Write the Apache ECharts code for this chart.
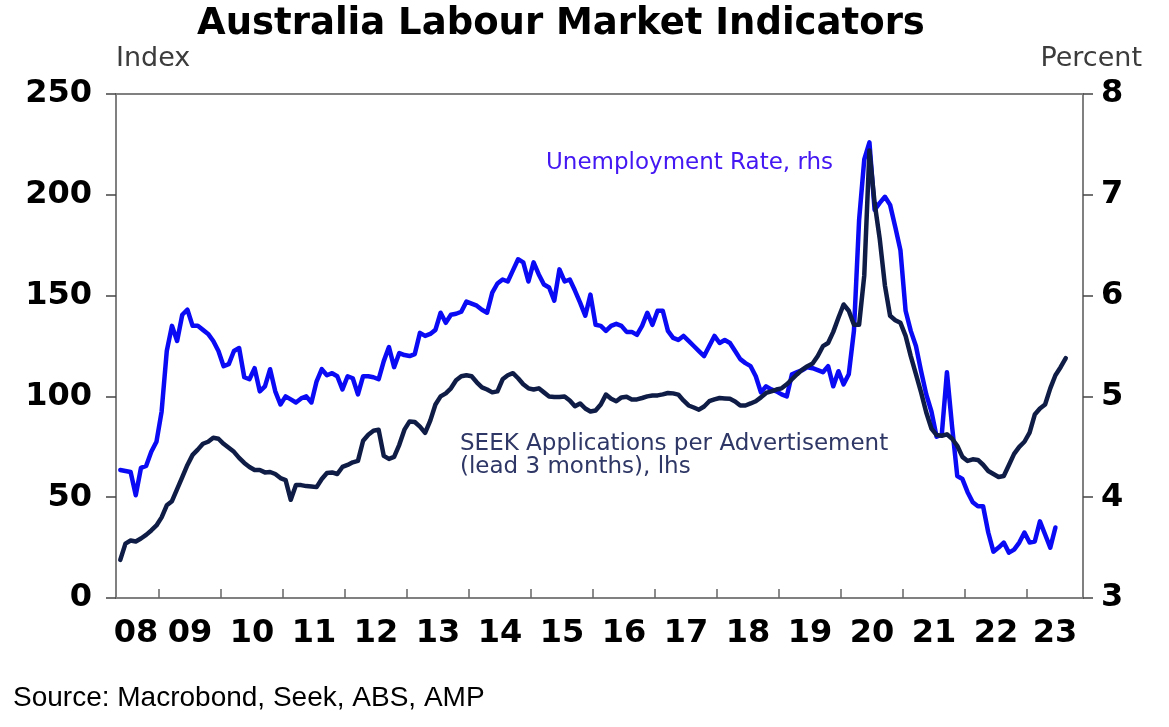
<!DOCTYPE html>
<html>
<head>
<meta charset="utf-8">
<title>Australia Labour Market Indicators</title>
<script src="https://cdn.jsdelivr.net/npm/echarts@6.0.0/dist/echarts.min.js"></script>
<style>
  html, body { margin: 0; padding: 0; background: #fff; }
  #chart { width: 1169px; height: 727px; }
</style>
</head>
<body>
<div id="chart"></div>
<script>
// monthly observations, first point mid-May 2008
const START_YEAR = 2008.375;

// Unemployment rate, % (right axis)
const unemploymentRate = [
  4.27, 4.26, 4.25, 4.02, 4.29, 4.31, 4.45, 4.55, 4.85, 5.45,
  5.70, 5.55, 5.81, 5.86, 5.70, 5.70, 5.66, 5.62, 5.55, 5.45,
  5.30, 5.32, 5.45, 5.48, 5.19, 5.17, 5.28, 5.05, 5.10, 5.27,
  5.05, 4.92, 5.00, 4.97, 4.94, 4.98, 5.00, 4.94, 5.15, 5.27,
  5.21, 5.23, 5.20, 5.07, 5.20, 5.18, 5.02, 5.20, 5.20, 5.19,
  5.17, 5.35, 5.49, 5.29, 5.43, 5.41, 5.40, 5.42, 5.63, 5.60,
  5.62, 5.66, 5.83, 5.73, 5.81, 5.82, 5.84, 5.94, 5.92, 5.90,
  5.86, 5.83, 6.03, 6.12, 6.16, 6.14, 6.25, 6.36, 6.33, 6.14,
  6.33, 6.21, 6.11, 6.08, 5.95, 6.26, 6.14, 6.16, 6.05, 5.93,
  5.80, 6.01, 5.71, 5.70, 5.65, 5.70, 5.72, 5.70, 5.64, 5.64,
  5.61, 5.70, 5.83, 5.71, 5.85, 5.85, 5.65, 5.58, 5.56, 5.60,
  5.55, 5.50, 5.45, 5.40, 5.50, 5.60, 5.53, 5.56, 5.53, 5.45,
  5.37, 5.33, 5.30, 5.20, 5.04, 5.10, 5.07, 5.05, 5.02, 5.00,
  5.22, 5.24, 5.26, 5.29, 5.28, 5.26, 5.24, 5.30, 5.10, 5.25,
  5.12, 5.22, 5.65, 6.75, 7.35, 7.52, 6.85, 6.92, 6.98, 6.90,
  6.68, 6.45, 5.85, 5.65, 5.50, 5.25, 5.02, 4.85, 4.60, 4.62,
  5.24, 4.70, 4.21, 4.18, 4.05, 3.95, 3.91, 3.91, 3.65, 3.46,
  3.50, 3.55, 3.45, 3.48, 3.55, 3.65, 3.55, 3.56, 3.76, 3.63,
  3.50, 3.70
];

// SEEK applications per advertisement, index, lead 3 months (left axis)
const seekApplications = [
  18.9, 27.0, 28.5, 28.0, 29.5, 31.3, 33.5, 36.0, 40.0, 46.0,
  48.0, 54.0, 60.0, 66.0, 71.0, 73.6, 76.5, 77.5, 79.5, 79.0,
  76.5, 74.5, 72.5, 69.5, 67.0, 65.0, 63.5, 63.5, 62.3, 62.5,
  61.5, 59.5, 58.5, 48.7, 56.0, 56.0, 55.5, 55.3, 55.0, 59.0,
  62.0, 62.3, 61.5, 65.0, 66.0, 67.3, 68.0, 78.0, 81.0, 83.0,
  83.5, 70.5, 69.0, 70.0, 76.0, 83.5, 87.6, 87.3, 85.0, 81.9,
  88.0, 96.0, 100.0, 101.5, 104.0, 108.0, 110.0, 110.5, 110.0, 107.0,
  104.5, 103.4, 102.0, 102.5, 108.5, 110.5, 111.5, 109.0, 106.0, 104.0,
  103.4, 104.0, 102.0, 100.0, 99.7, 99.7, 100.0, 98.0, 95.1, 96.5,
  94.0, 92.5, 93.0, 96.0, 100.9, 98.8, 97.6, 99.5, 99.8, 98.5,
  98.5, 99.2, 100.0, 100.4, 100.5, 101.0, 101.7, 101.5, 100.9, 98.0,
  95.5, 94.5, 93.4, 95.0, 97.6, 98.5, 99.2, 99.0, 98.8, 97.5,
  95.5, 95.5, 96.5, 97.6, 99.5, 101.7, 102.5, 103.4, 104.0, 106.0,
  108.5, 111.0, 113.3, 115.0, 116.3, 120.0, 124.9, 126.5, 132.0, 139.0,
  145.6, 142.5, 135.5, 135.5, 160.0, 222.0, 196.0, 178.0, 155.0, 140.0,
  137.8, 136.5, 130.0, 120.0, 111.0, 102.0, 92.0, 84.0, 80.8, 80.5,
  81.2, 79.0, 75.5, 70.0, 68.0, 68.8, 68.5, 66.1, 63.0, 61.5,
  60.0, 60.5, 66.0, 71.5, 75.0, 77.5, 82.0, 91.0, 94.0, 96.0,
  104.0, 110.5, 114.5, 119.0
];

// year boundaries get a tick, labels sit in the middle of each year
const yearTicks = [2009, 2010, 2011, 2012, 2013, 2014, 2015, 2016,
  2017, 2018, 2019, 2020, 2021, 2022, 2023];
const yearLabelPos = [2008.63, 2009.5, 2010.5, 2011.5, 2012.5, 2013.5, 2014.5,
  2015.5, 2016.5, 2017.5, 2018.5, 2019.5, 2020.5, 2021.5, 2022.5, 2023.45];

const toSeries = vals => vals.map((v, i) => [START_YEAR + i / 12, v]);

const AXIS_GREY = '#808080';
const labelFont = {
  fontFamily: 'DejaVu Sans',
  fontWeight: 'bold',
  fontSize: 32,
  color: '#000'
};

const chart = echarts.init(document.getElementById('chart'));

chart.setOption({
  animation: false,
  backgroundColor: '#fff',
  grid: {
    left: 116, right: 86, top: 94, bottom: 129,
    show: true, borderColor: AXIS_GREY, borderWidth: 2
  },
  xAxis: {
    type: 'value',
    min: 2008.306,
    max: 2023.903,
    axisLine: { show: true, lineStyle: { color: AXIS_GREY, width: 2 } },
    axisTick: {
      show: true, inside: true, length: 9,
      customValues: yearTicks,
      lineStyle: { color: '#666', width: 1.5 }
    },
    axisLabel: Object.assign({
      customValues: yearLabelPos,
      margin: 20,
      formatter: v => String(Math.floor(v)).slice(2)
    }, labelFont),
    splitLine: { show: false }
  },
  yAxis: [
    {
      type: 'value', position: 'left',
      min: 0, max: 250, interval: 50,
      axisLine: { show: true, lineStyle: { color: AXIS_GREY, width: 2 } },
      axisTick: { show: true, length: 10, lineStyle: { color: '#444', width: 1.5 } },
      axisLabel: Object.assign({ margin: 24 }, labelFont),
      splitLine: { show: false }
    },
    {
      type: 'value', position: 'right',
      min: 3, max: 8, interval: 1,
      axisLine: { show: true, lineStyle: { color: AXIS_GREY, width: 2 } },
      axisTick: { show: true, length: 10, lineStyle: { color: '#444', width: 1.5 } },
      axisLabel: Object.assign({ margin: 18 }, labelFont),
      splitLine: { show: false }
    }
  ],
  series: [
    {
      name: 'Unemployment Rate',
      type: 'line',
      yAxisIndex: 1,
      data: toSeries(unemploymentRate),
      showSymbol: false,
      symbol: 'none',
      lineStyle: { color: '#0a0af5', width: 4.5, join: 'round', cap: 'round' },
      z: 2
    },
    {
      name: 'SEEK Applications per Advertisement',
      type: 'line',
      yAxisIndex: 0,
      data: toSeries(seekApplications),
      showSymbol: false,
      symbol: 'none',
      lineStyle: { color: '#0f1c45', width: 4.5, join: 'round', cap: 'round' },
      z: 3
    }
  ],
  graphic: [
    {
      type: 'text', x: 197, y: 24,
      style: {
        text: 'Australia Labour Market Indicators',
        font: 'bold 37px "DejaVu Sans"', fill: '#000',
        align: 'left', verticalAlign: 'middle'
      }
    },
    {
      type: 'text', x: 116, y: 59,
      style: {
        text: 'Index', font: '27px "DejaVu Sans"', fill: '#3c3c3c',
        align: 'left', verticalAlign: 'middle'
      }
    },
    {
      type: 'text', x: 1142, y: 59,
      style: {
        text: 'Percent', font: '27px "DejaVu Sans"', fill: '#3c3c3c',
        align: 'right', verticalAlign: 'middle'
      }
    },
    {
      type: 'text', x: 546, y: 163,
      style: {
        text: 'Unemployment Rate, rhs', font: '23px "DejaVu Sans"', fill: '#4418f2',
        align: 'left', verticalAlign: 'middle'
      }
    },
    {
      type: 'text', x: 460, y: 444,
      style: {
        text: 'SEEK Applications per Advertisement', font: '23px "DejaVu Sans"', fill: '#2e3765',
        align: 'left', verticalAlign: 'middle'
      }
    },
    {
      type: 'text', x: 460, y: 467,
      style: {
        text: '(lead 3 months), lhs', font: '23px "DejaVu Sans"', fill: '#2e3765',
        align: 'left', verticalAlign: 'middle'
      }
    },
    {
      type: 'text', x: 13, y: 698,
      style: {
        text: 'Source: Macrobond, Seek, ABS, AMP', font: '28px "Liberation Sans"', fill: '#000',
        align: 'left', verticalAlign: 'middle'
      }
    }
  ]
});

window.addEventListener('resize', () => chart.resize());
</script>
</body>
</html>
